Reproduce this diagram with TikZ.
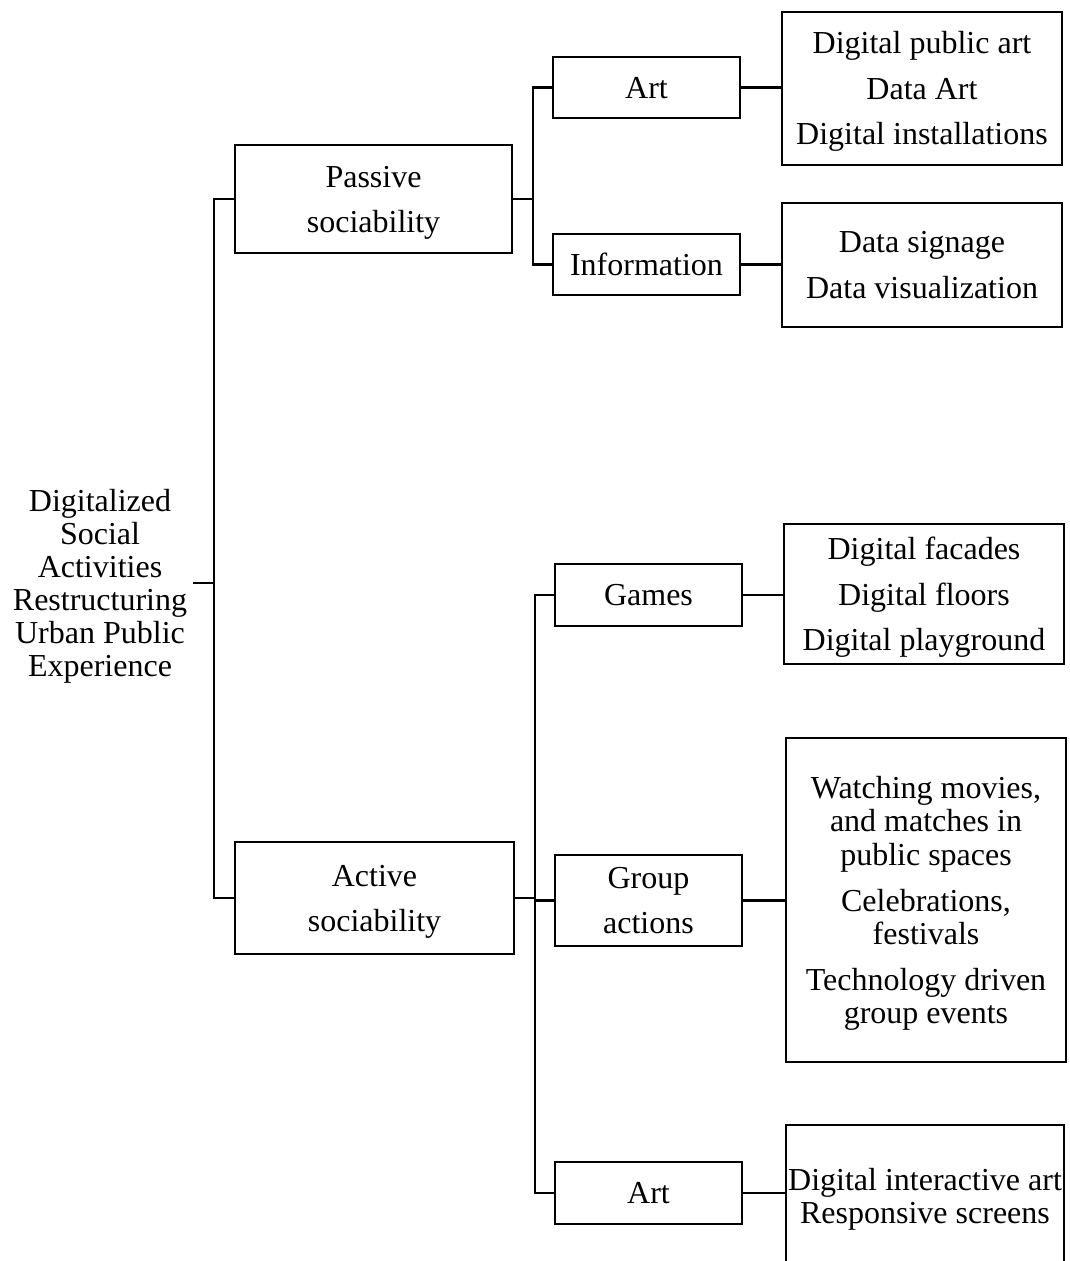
\documentclass[tikz,border=0pt]{standalone}
\usepackage{fontspec}
\setmainfont{Liberation Serif}
\newcommand\tcell[1]{\raisebox{-4pt}[\height][\depth]{\begin{tabular}{@{}c@{}}#1\end{tabular}}}
\begin{document}
\begin{tikzpicture}[x=1pt,y=-1pt,
  box/.style={draw,line width=2.8pt,inner sep=0pt,font=\fontsize{32}{33}\selectfont},
  plain/.style={inner sep=0pt,font=\fontsize{32}{33}\selectfont},
  conn/.style={line width=2.8pt}]
\clip (0,0) rectangle (1069,1261);
\fill[white] (0,0) rectangle (1069,1261);
% root
\node[plain,minimum width=186pt] (root) at (100,583) {\tcell{Digitalized\\Social\\Activities\\Restructuring\\Urban Public\\Experience}};
% level 1
\node[box,minimum width=277pt,minimum height=108pt] (passive) at (373.5,199) {\tcell{Passive\\[12pt]sociability}};
\node[box,minimum width=279pt,minimum height=112pt] (active) at (374.5,898) {\tcell{Active\\[12pt]sociability}};
% level 2
\node[box,minimum width=187pt,minimum height=61pt] (art1) at (646.5,87.5) {\tcell{Art}};
\node[box,minimum width=187pt,minimum height=61pt] (info) at (646.5,264.5) {\tcell{Information}};
\node[box,minimum width=187pt,minimum height=62pt] (games) at (648.5,595) {\tcell{Games}};
\node[box,minimum width=187pt,minimum height=91pt] (group) at (648.5,900.5) {\tcell{Group\\[12pt]actions}};
\node[box,minimum width=187pt,minimum height=62pt] (art2) at (648.5,1193) {\tcell{Art}};
% level 3
\node[box,minimum width=280pt,minimum height=153pt] (r1) at (922,88.5) {\tcell{Digital public art\\[13pt]Data Art\\[12pt]Digital installations}};
\node[box,minimum width=280pt,minimum height=124pt] (r2) at (922,265) {\tcell{Data signage\\[13pt]Data visualization}};
\node[box,minimum width=280pt,minimum height=140pt] (r3) at (924,594) {\tcell{Digital facades\\[13pt]Digital floors\\[12pt]Digital playground}};
\node[box,minimum width=280pt,minimum height=324pt] (r4) at (926,900) {\tcell{Watching movies,\\and matches in\\[1pt]public spaces\\[13pt]Celebrations,\\festivals\\[13pt]Technology driven\\group events}};
\node[box,minimum width=278pt,minimum height=143pt] (r5) at (925,1196.5) {\tcell{Digital interactive art\\Responsive screens}};
% junctions
\coordinate (j0) at (214,583);
\coordinate (j1) at (533,199);
\coordinate (j2) at (535,898);
% connectors
\draw[conn] (root.east) -- (j0);
\draw[conn] (passive.west) -| (j0) |- (active.west);
\draw[conn] (passive.east) -- (j1);
\draw[conn] (art1.west) -| (j1) |- (info.west);
\draw[conn] (active.east) -- (j2);
\draw[conn] (games.west) -| (j2) |- (art2.west);
\draw[conn] (j2 |- group.west) -- (group.west);
\draw[conn] (art1.east) -- (r1.west |- art1.east);
\draw[conn] (info.east) -- (r2.west |- info.east);
\draw[conn] (games.east) -- (r3.west |- games.east);
\draw[conn] (group.east) -- (r4.west |- group.east);
\draw[conn] (art2.east) -- (r5.west |- art2.east);
\end{tikzpicture}
\end{document}
